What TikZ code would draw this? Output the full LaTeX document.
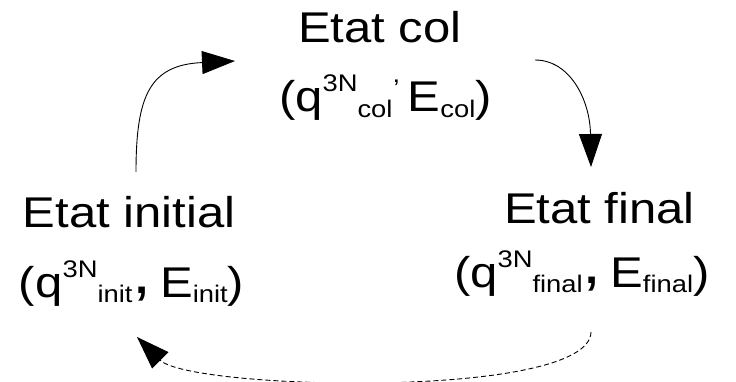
\documentclass[tikz,border=0pt]{standalone}
\usepackage{fontspec}
\setmainfont{Liberation Sans}[FakeStretch=1.14]
\usetikzlibrary{arrows.meta}

% raised exponent and lowered index, set smaller than the main text
\newcommand\hiscript[1]{\raisebox{20pt}{\fontsize{24}{24}\selectfont #1}}
\newcommand\loscript[1]{\raisebox{-5.5pt}{\fontsize{24}{24}\selectfont #1}}
% comma raised to exponent height (small) and a large comma near the baseline
\newcommand\hicomma{\raisebox{29pt}{\fontsize{24}{24}\selectfont ,\ }}
\newcommand\bigcomma{\makebox[13.9pt][l]{\raisebox{4pt}{\fontsize{60}{60}\selectfont ,}}}

\begin{document}
\begin{tikzpicture}[x=1pt,y=-1pt,
  statetext/.style={anchor=base west, inner sep=0pt, outer sep=0pt,
    font=\fontsize{43}{43}\selectfont},
  flow/.style={line width=0.9pt, -{Triangle[length=33pt,width=23pt]}},
  backflow/.style={flow, dash pattern=on 5pt off 3pt}]
\useasboundingbox (0,0) rectangle (736,382);

% states
\node[statetext] (colT)  at (298,43)  {Etat col};
\node[statetext] (colQ)  at (279,112) {(q\hiscript{3N}\loscript{col}\hicomma E\loscript{col})};
\node[statetext] (initT) at (23,228)  {Etat initial};
\node[statetext] (initQ) at (19,297)  {(q\hiscript{3N}\loscript{init}\bigcomma\ E\loscript{init})};
\node[statetext] (finT)  at (504,223) {Etat final};
\node[statetext] (finQ)  at (454,287) {(q\hiscript{3N}\loscript{final}\bigcomma\ E\loscript{final})};

% connector ends
\coordinate (initOut) at (136,172);
\coordinate (colIn)   at (235,61);
\coordinate (colOut)  at (535,60);
\coordinate (finIn)   at (591,167);
\coordinate (finOut)  at (591,332);
\coordinate (initIn)  at (137,337);

% cycle of transitions
\draw[flow] (initOut) .. controls (136,95) and (150,65) .. (colIn);
\draw[flow] (colOut) .. controls (570,60) and (590,100) .. (finIn);
\draw[backflow] (finOut) .. controls (590,400) and (190,390) .. (initIn);
\end{tikzpicture}
\end{document}
